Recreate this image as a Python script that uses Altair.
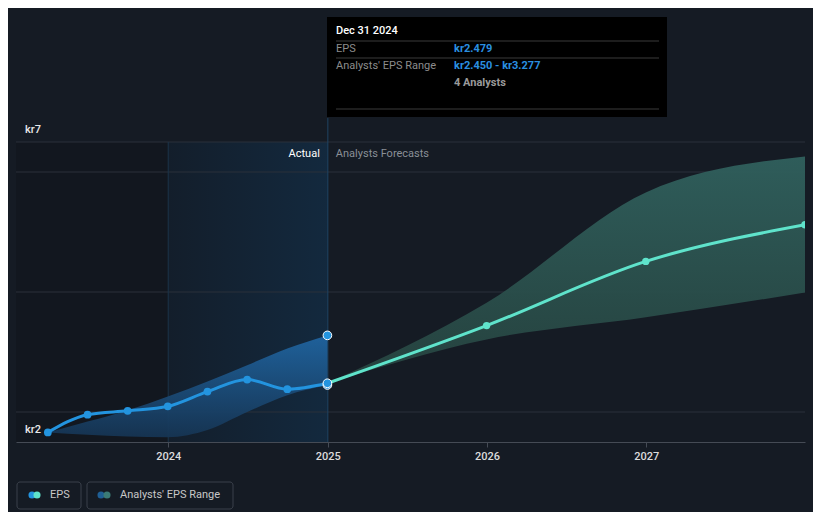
import altair as alt
import pandas as pd

FONT = "Roboto"
BG = "#151b24"

# ---------------- data ----------------
actual_dates = ["2023-03-31", "2023-06-30", "2023-09-30", "2023-12-31",
                "2024-03-31", "2024-06-30", "2024-09-30", "2024-12-31"]
actual_eps = [1.66, 1.955, 2.02, 2.095, 2.34, 2.54, 2.38, 2.479]
actual_low = [1.66, 1.62, 1.59, 1.58, 1.70, 2.00, 2.28, 2.450]
actual_high = [1.66, 1.84, 2.03, 2.26, 2.51, 2.78, 3.06, 3.277]

fc_dates = ["2024-12-31", "2025-12-31", "2026-12-31", "2027-12-31"]
fc_eps = [2.479, 3.44, 4.51, 5.12]
fc_low = [2.479, 3.21, 3.58, 3.99]
fc_high = [2.479, 3.82, 5.66, 6.26]

analyst_count = 4
grid_values = [2, 4, 6, 6.5]
y_label_values = [6.5, 1.5]
y_label_texts = ["kr7", "kr2"]
x_domain = ["2023-01-17", "2027-12-31"]
y_domain = [1.5, 6.5]
past_start, actual_start, forecast_start = "2023-01-17", "2024-01-01", "2025-01-01"

actual = pd.DataFrame({"date": actual_dates, "eps": actual_eps,
                       "low": actual_low, "high": actual_high})
fc = pd.DataFrame({"date": fc_dates, "eps": fc_eps, "low": fc_low, "high": fc_high})
fc_pts = fc.iloc[1:]
last = actual.iloc[[-1]]
hl = pd.DataFrame({"date": [actual_dates[-1]] * 3,
                   "v": [actual_high[-1], actual_low[-1], actual_eps[-1]]})
grid = pd.DataFrame({"v": grid_values})
ylab = pd.DataFrame({"v": y_label_values, "t": y_label_texts})
regions_past = pd.DataFrame({"s": [past_start], "e": [actual_start]})
regions_act = pd.DataFrame({"s": [actual_start], "e": [forecast_start]})
vlines = pd.DataFrame({"d": [actual_start, forecast_start], "c": ["a", "b"]})
sections = pd.DataFrame({"d": [forecast_start, forecast_start], "t": ["Actual", "Analysts Forecasts"],
                         "v": [y_domain[1], y_domain[1]]})


def dt(s):
    t = pd.Timestamp(s)
    return alt.DateTime(year=t.year, month=t.month, date=t.day)


xscale = alt.Scale(domain=[dt(x_domain[0]), dt(x_domain[1])])
yscale = alt.Scale(domain=y_domain, nice=False, zero=False)
xaxis = alt.Axis(title=None, format="%Y", tickCount="year", grid=False,
                 domainColor="#454b55", tickColor="#454b55", tickSize=5,
                 labelColor="#dcdcdc", labelFontSize=11, labelFont=FONT,
                 labelPadding=3, labelFontWeight=500)


def X(field):
    return alt.X(f"{field}:T", scale=xscale, axis=xaxis)


def Y(field):
    return alt.Y(f"{field}:Q", scale=yscale, axis=None)


# --------------- background regions ---------------
past_rect = alt.Chart(regions_past).mark_rect(color="#12171f").encode(
    x=X("s"), x2="e:T", y=alt.value(0), y2=alt.value(300))

act_rect = alt.Chart(regions_act).mark_rect(
    color=alt.LinearGradient(gradient="linear",
                             stops=[alt.GradientStop(offset=0, color="#131e2b"),
                                    alt.GradientStop(offset=1, color="#13293e")],
                             x1=0, x2=1, y1=0, y2=0)
).encode(x=X("s"), x2="e:T", y=alt.value(0), y2=alt.value(300))

grid_rules = alt.Chart(grid).mark_rule(color="#2b313b", strokeWidth=1).encode(
    y=Y("v"), x=alt.value(0), x2=alt.value(789))

vline_a = alt.Chart(vlines.iloc[[0]]).mark_rule(color="#1b3349", strokeWidth=1).encode(
    x=X("d"), y=alt.value(0), y2=alt.value(300))
vline_b = alt.Chart(vlines.iloc[[1]]).mark_rule(color="#1f4463", strokeWidth=1).encode(
    x=X("d"), y=alt.value(-24), y2=alt.value(300))

# --------------- bands ---------------
blue_band = alt.Chart(actual).mark_area(
    interpolate="monotone",
    color=alt.LinearGradient(gradient="linear",
                             stops=[alt.GradientStop(offset=0, color="#2066a3"),
                                    alt.GradientStop(offset=1, color="#163554")],
                             x1=0, x2=0, y1=0, y2=1),
    opacity=0.92
).encode(x=X("date"), y=Y("high"), y2="low:Q")

teal_band = alt.Chart(fc).mark_area(
    interpolate="monotone", clip=True,
    color=alt.LinearGradient(gradient="linear",
                             stops=[alt.GradientStop(offset=0, color="#30605d"),
                                    alt.GradientStop(offset=1, color="#26433f")],
                             x1=0, x2=0, y1=0, y2=1),
    opacity=0.95
).encode(x=X("date"), y=Y("high"), y2="low:Q")

# --------------- lines & points ---------------
act_line = alt.Chart(actual).mark_line(interpolate="monotone", color="#2394df", strokeWidth=3).encode(
    x=X("date"), y=Y("eps"))
act_pts = alt.Chart(actual.iloc[:-1]).mark_circle(color="#2394df", size=60, opacity=1).encode(
    x=X("date"), y=Y("eps"))

fc_line = alt.Chart(fc).mark_line(interpolate="monotone", color="#5fe3cb", strokeWidth=3, clip=True).encode(
    x=X("date"), y=Y("eps"))
fc_points = alt.Chart(fc_pts).mark_circle(color="#5fe3cb", size=55, opacity=1, clip=True).encode(
    x=X("date"), y=Y("eps"))

hl_pts = alt.Chart(hl).mark_point(filled=True, fill="#2394df", stroke="#ffffff", strokeWidth=1,
                                  size=75, opacity=1, shape="circle").encode(
    x=X("date"), y=Y("v"))

# --------------- texts ---------------
sec_actual = alt.Chart(sections.iloc[[0]]).mark_text(
    align="right", baseline="middle", dx=-8, dy=12, color="#ffffff", fontSize=11, font=FONT
).encode(x=X("d"), y=Y("v"), text="t:N")
sec_fc = alt.Chart(sections.iloc[[1]]).mark_text(
    align="left", baseline="middle", dx=8, dy=12, color="#8a8f96", fontSize=11, font=FONT
).encode(x=X("d"), y=Y("v"), text="t:N")

ylabels = alt.Chart(ylab).mark_text(
    align="left", baseline="middle", dy=-12, color="#e8e8e8", fontSize=11, font=FONT, fontWeight=500
).encode(x=alt.value(9), y=Y("v"), text="t:N")

ONE = alt.Data(values=[{}])


def txt(text, x, y, color, size=11, weight="normal", align="left"):
    return alt.Chart(ONE).mark_text(text=text, align=align, baseline="middle", color=color,
                                    fontSize=size, fontWeight=weight, font=FONT).encode(
        x=alt.value(x), y=alt.value(y))


def hrule(x1, x2, y, color):
    return alt.Chart(ONE).mark_rule(color=color, strokeWidth=1).encode(
        x=alt.value(x1), x2=alt.value(x2), y=alt.value(y))


def box(x1, x2, y1, y2, fill, stroke=None, radius=0):
    kw = dict(fill=fill, cornerRadius=radius)
    if stroke:
        kw.update(stroke=stroke, strokeWidth=1)
    return alt.Chart(ONE).mark_rect(**kw).encode(
        x=alt.value(x1), x2=alt.value(x2), y=alt.value(y1), y2=alt.value(y2))


def dot(x, y, color, size=50):
    return alt.Chart(ONE).mark_circle(color=color, size=size, opacity=1).encode(
        x=alt.value(x), y=alt.value(y))


date_label = pd.Timestamp(actual_dates[-1]).strftime("%b %d %Y")
tooltip = [
    box(311, 651, -125, -25, "#000000"),
    txt(date_label, 320, -111, "#ffffff", 11, 500),
    hrule(320, 643, -101, "#3a3a3a"),
    txt("EPS", 320, -93, "#8c8c8c"),
    txt(f"kr{actual_eps[-1]:.3f}", 438, -93, "#2a8fe0", 11, "bold"),
    hrule(320, 643, -84, "#3a3a3a"),
    txt("Analysts' EPS Range", 320, -76, "#8c8c8c"),
    txt(f"kr{actual_low[-1]:.3f} - kr{actual_high[-1]:.3f}", 438, -76, "#2a8fe0", 11, "bold"),
    txt(f"{analyst_count} Analysts", 438, -59, "#9a9a9a", 11, "bold"),
    hrule(320, 643, -33, "#3a3a3a"),
]

legend = [
    box(1, 65, 340, 367, BG, "#3b414b", 3),
    dot(16, 353, "#2394df"),
    dot(21, 353, "#5fe3cb"),
    txt("EPS", 34, 353, "#c8c8c8"),
    box(71, 217, 340, 367, BG, "#3b414b", 3),
    dot(85, 353, "#1f5f95"),
    dot(91, 353, "#3b7b76"),
    txt("Analysts' EPS Range", 104, 353, "#c8c8c8"),
]

chart = alt.layer(
    past_rect, act_rect, grid_rules, vline_a, vline_b,
    blue_band, teal_band, act_line, act_pts, fc_line, fc_points, hl_pts,
    sec_actual, sec_fc, ylabels, *tooltip, *legend
).properties(
    width=789, height=300,
    padding={"left": 8, "top": 134, "right": 8, "bottom": 70},
    autosize=alt.AutoSizeParams(type="none"),
    background=BG,
).configure_view(strokeWidth=0)

chart.save("out.html", embed_options={"renderer": "svg", "actions": False})
